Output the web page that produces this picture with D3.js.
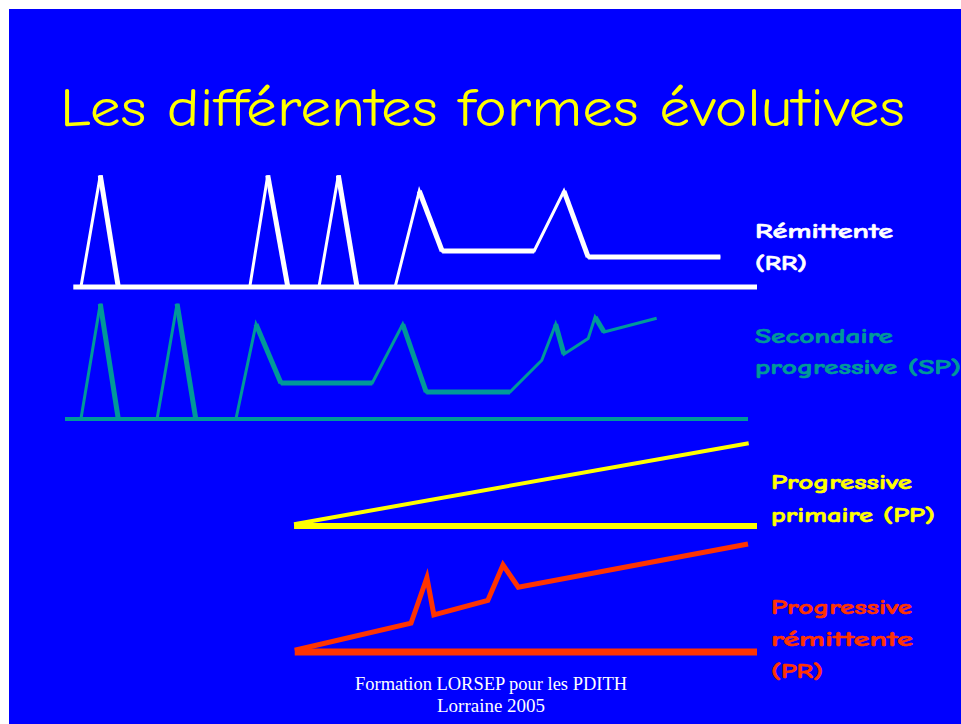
<!DOCTYPE html>
<html><head><meta charset="utf-8">
<script src="https://cdn.jsdelivr.net/npm/d3@7"></script>
<style>html,body{margin:0;padding:0;background:#fff;}svg{display:block;}</style>
</head><body>
<svg id="c" width="961" height="724"></svg>
<script>
// ---- data (time 0..100, disability level 0..10) ----
const title = "Les différentes formes évolutives";
const footer = ["Formation LORSEP pour les PDITH", "Lorraine 2005"];

const rrBaseline = [1.2, 100];
const rrPoints = [[2.3,0],[5.1,9.3],[7.7,0],[26.7,0],[29.3,9.3],[32.2,0],[36.7,0],[39.5,9.3],[42.2,0],
  [47.7,0],[51.2,8],[54.5,3],[67.8,3],[72.1,8],[75.6,2.5],[94.7,2.5]];
const rrLabel = ["Rémittente","(RR)"];

const spBaseline = [0, 98.7];
const spPoints = [[2.3,0],[5.1,9.6],[7.7,0],[13.3,0],[16.2,9.6],[18.9,0],[24.7,0],[27.6,7.9],[31.2,3.0],
  [44.4,3.0],[48.8,7.9],[52.2,2.25],[64.3,2.25],[68.9,4.9],[70.9,7.9],[72.1,5.4],[75.6,6.7],[76.6,8.5],[77.9,7.25],[85.5,8.4]];
const spLabel = ["Secondaire","progressive (SP)"];

const ppBaseline = [33.1, 100];
const ppPoints = [[33.1,0.15],[98.8,6.9]];
const ppLabel = ["Progressive","primaire (PP)"];

const prBaseline = [33.2, 100];
const prPoints = [[33.2,0.15],[50,2.4],[52.3,6.2],[53.3,3.1],[61.1,4.3],[63.3,7.25],[65.5,5.4],[98.7,9.0]];
const prLabel = ["Progressive","rémittente","(PR)"];

// ---- drawing ----
const svg = d3.select("#c");
svg.append("rect").attr("x",9).attr("y",9).attr("width",952).attr("height",715).attr("fill","#0000ff");

const x = d3.scaleLinear().domain([0,100]).range([65,757]);
const panelScale = y0 => d3.scaleLinear().domain([0,10]).range([y0, y0-120]);

const comic = "'Comic Sans MS','Comic Neue','DejaVu Sans',sans-serif";

svg.append("text").text(title).attr("x",60).attr("y",126)
  .attr("fill","#ffff00").attr("font-family",comic).attr("font-size",55)
  .attr("textLength",845).attr("lengthAdjust","spacingAndGlyphs");

function panel(cfg){
  const y = panelScale(cfg.y0);
  const g = svg.append("g");
  g.append("line").attr("x1",x(cfg.base[0])).attr("x2",x(cfg.base[1]))
    .attr("y1",y(0)).attr("y2",y(0)).attr("stroke",cfg.color).attr("stroke-width",cfg.baseW);
  const line = d3.line().x(d=>x(d[0])).y(d=>y(d[1]));
  g.append("path").attr("d",line(cfg.pts)).attr("fill","none").attr("stroke",cfg.color)
    .attr("stroke-width",cfg.thin).attr("stroke-linejoin","miter");
  // thicker descending / raised flat strokes
  for(let i=1;i<cfg.pts.length;i++){
    const a=cfg.pts[i-1], b=cfg.pts[i];
    const desc = b[1] < a[1], flatUp = b[1] === a[1] && a[1] > 0;
    if((desc || flatUp) && cfg.thick>cfg.thin){
      g.append("line").attr("x1",x(a[0])).attr("y1",y(a[1])).attr("x2",x(b[0])).attr("y2",y(b[1]))
        .attr("stroke",cfg.color).attr("stroke-width",cfg.thick);
    }
  }
  cfg.label.forEach((t,i)=>{
    g.append("text").text(t).attr("x",cfg.lx).attr("y",cfg.ly + i*cfg.lh)
      .attr("fill",cfg.color).attr("font-family",comic).attr("font-weight","bold")
      .attr("font-size",21).attr("stroke",cfg.color).attr("stroke-width",0.6)
      .attr("textLength",cfg.lw[i]).attr("lengthAdjust","spacingAndGlyphs");
  });
}

panel({y0:287, base:rrBaseline, pts:rrPoints, color:"#ffffff", baseW:5, thin:3, thick:5,
  label:rrLabel, lx:755, ly:238, lh:32, lw:[138,52]});
panel({y0:419, base:spBaseline, pts:spPoints, color:"#009999", baseW:4, thin:3, thick:5,
  label:spLabel, lx:755, ly:343, lh:31, lw:[138,206]});
panel({y0:526, base:ppBaseline, pts:ppPoints, color:"#ffff00", baseW:6, thin:4, thick:4,
  label:ppLabel, lx:771, ly:489, lh:33, lw:[141,164]});
panel({y0:652, base:prBaseline, pts:prPoints, color:"#ff3300", baseW:7, thin:5, thick:5,
  label:prLabel, lx:771, ly:614, lh:32, lw:[141,142,52]});

footer.forEach((t,i)=>{
  svg.append("text").text(t).attr("x",491).attr("y",690+i*22).attr("text-anchor","middle")
    .attr("fill","#ffffff").attr("font-family","'Liberation Serif','Times New Roman',serif")
    .attr("font-size",18).attr("textLength", i===0?272:108).attr("lengthAdjust","spacingAndGlyphs");
});
</script>
</body></html>
